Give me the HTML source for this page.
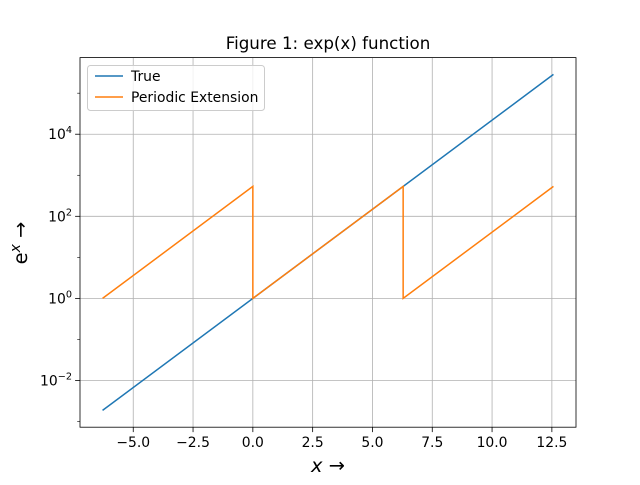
<!DOCTYPE html>
<html><head><meta charset="utf-8"><style>
body{margin:0;background:#fff}
svg text{font-family:"DejaVu Sans","Liberation Sans",sans-serif;fill:#000}
</style></head><body>
<svg id="chart" width="640" height="480" xmlns="http://www.w3.org/2000/svg">
<rect width="640" height="480" fill="#fff"/>
<g id="grid"></g><g id="series"></g><g id="axes"></g>
<text x="328" y="49" text-anchor="middle" font-size="16.7">Figure 1: exp(x) function</text>
<text x="328" y="472" text-anchor="middle" font-size="19.4"><tspan font-style="italic">x</tspan> →</text>
<text transform="translate(27,243) rotate(-90)" text-anchor="middle" font-size="19.4">e<tspan font-style="italic" font-size="14" dy="-7">x</tspan><tspan dy="7"> →</tspan></text>
<g>
<rect x="87.5" y="65.5" width="177" height="45" rx="3" fill="#fff" fill-opacity="0.8" stroke="#ccc"/>
<line x1="95" y1="76" x2="123" y2="76" stroke="#1f77b4" stroke-width="1.5"/>
<text x="131" y="81" font-size="13.9">True</text>
<line x1="95" y1="97" x2="123" y2="97" stroke="#ff7f0e" stroke-width="1.5"/>
<text x="131" y="102" font-size="13.9">Periodic Extension</text>
</g>
</svg>
<script>
const trueX=[-6.2832,12.5664];
const trueY=[0.001867,286751];
const perX=[-6.2832,0,0,6.2832,6.2832,12.5664];
const perY=[1,535.5,1,535.5,1,535.5];
const xTicks=[-5,-2.5,0,2.5,5,7.5,10,12.5];
const xTickLabels=["−5.0","−2.5","0.0","2.5","5.0","7.5","10.0","12.5"];
const yTickExp=[-2,0,2,4];
const yMinorExp=[-3,-1,1,3,5];

const L=80,R=576,T=57.6,B=427.2;
const xMin=-7.2257,xMax=13.5089,lyMin=-3.1382,lyMax=5.8669;
const sx=v=>L+(v-xMin)/(xMax-xMin)*(R-L);
const sy=v=>B-(Math.log10(v)-lyMin)/(lyMax-lyMin)*(B-T);
const NS="http://www.w3.org/2000/svg";
function mk(tag,attrs,parent){const e=document.createElementNS(NS,tag);for(const k in attrs)e.setAttribute(k,attrs[k]);document.getElementById(parent).appendChild(e);return e;}

xTicks.forEach((t,i)=>{
 const x=sx(t);
 const g=mk('line',{x1:x,x2:x,y1:T,y2:B,stroke:'#b0b0b0','stroke-width':0.8},'grid');
 
 
 const tk=mk('line',{x1:x,x2:x,y1:B,y2:B+4.9,stroke:'#000','stroke-width':0.8},'axes');
 
 
 const lb=mk('text',{x:x,y:B+20,'text-anchor':'middle','font-size':13.9},'axes');
 lb.textContent=xTickLabels[i];
 
 
});
yTickExp.forEach(e=>{
 const y=sy(Math.pow(10,e));
 const g=mk('line',{x1:L,x2:R,y1:y,y2:y,stroke:'#b0b0b0','stroke-width':0.8},'grid');
 
 
 const tk=mk('line',{x1:L-4.9,x2:L,y1:y,y2:y,stroke:'#000','stroke-width':0.8},'axes');
 
 
 const lb=mk('text',{x:L-8,y:y+5,'text-anchor':'end','font-size':13.9},'axes');
 lb.innerHTML='10<tspan dy="-6" font-size="9.7">'+(e<0?'−'+(-e):e)+'</tspan>';
 
 
});
yMinorExp.forEach(e=>{
 const y=sy(Math.pow(10,e));
 const tk=mk('line',{x1:L-2.8,x2:L,y1:y,y2:y,stroke:'#000','stroke-width':0.6},'axes');
 
 
});
const fr=mk('rect',{x:L,y:T,width:R-L,height:B-T,fill:'none',stroke:'#000','stroke-width':0.8},'axes');



const p1=mk('polyline',{points:trueX.map((x,i)=>sx(x)+','+sy(trueY[i])).join(' '),fill:'none',stroke:'#1f77b4','stroke-width':1.5},'series');


const p2=mk('polyline',{points:perX.map((x,i)=>sx(x)+','+sy(perY[i])).join(' '),fill:'none',stroke:'#ff7f0e','stroke-width':1.5},'series');


</script>
</body></html>
